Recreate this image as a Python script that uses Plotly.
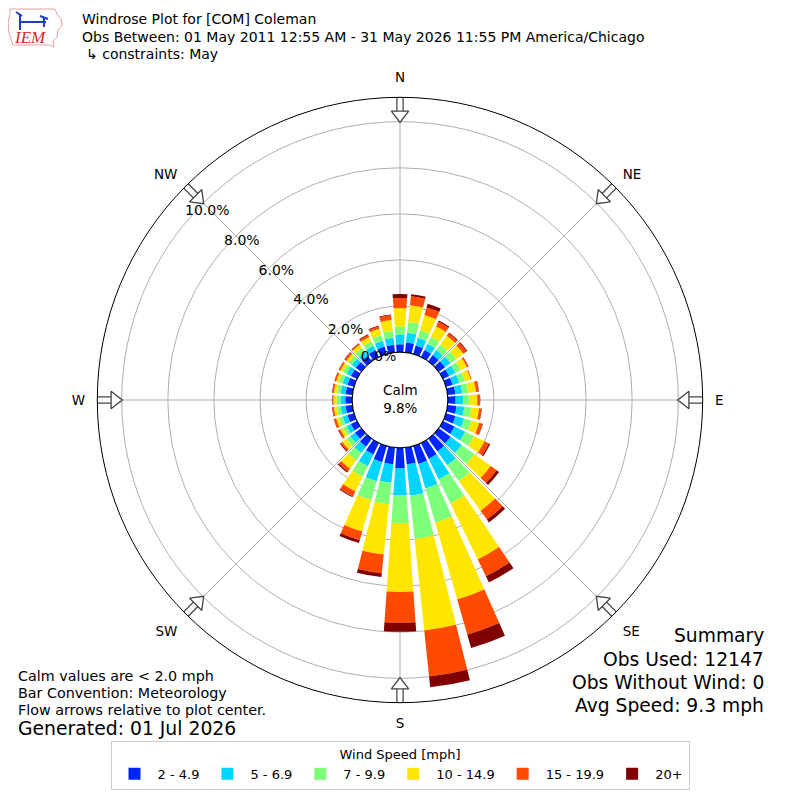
import numpy as np
import plotly.graph_objects as go

# wind direction bins (degrees, meteorological convention)
directions = list(range(0, 360, 10))

speed_bins = ["2 - 4.9", "5 - 6.9", "7 - 9.9", "10 - 14.9", "15 - 19.9", "20+"]
bin_colors = ["#0026ff", "#00d5ff", "#7dff7a", "#ffe600", "#ff4a00", "#800000"]

# frequency [%] per direction for each speed bin
freq_2_5 = [0.34, 0.43, 0.39, 0.34, 0.34, 0.34, 0.30, 0.30, 0.34, 0.34, 0.39, 0.43,
            0.56, 0.64, 0.69, 0.77, 0.81, 0.73, 0.90, 0.73, 0.73, 0.56, 0.43, 0.34,
            0.30, 0.30, 0.30, 0.30, 0.30, 0.30, 0.30, 0.30, 0.30, 0.34, 0.34, 0.34]
freq_5_7 = [0.43, 0.43, 0.34, 0.30, 0.26, 0.30, 0.30, 0.30, 0.30, 0.34, 0.34, 0.39,
            0.51, 0.60, 0.73, 0.99, 1.11, 1.37, 1.16, 0.81, 0.86, 0.56, 0.34, 0.26,
            0.21, 0.21, 0.21, 0.21, 0.21, 0.21, 0.21, 0.21, 0.21, 0.21, 0.26, 0.30]
freq_7_10 = [0.34, 0.47, 0.34, 0.34, 0.30, 0.30, 0.26, 0.26, 0.26, 0.26, 0.30, 0.34,
             0.43, 0.69, 0.86, 1.16, 1.54, 1.89, 1.20, 0.94, 0.86, 0.51, 0.39, 0.21,
             0.17, 0.17, 0.17, 0.17, 0.17, 0.17, 0.17, 0.17, 0.21, 0.21, 0.26, 0.30]
freq_10_15 = [0.81, 0.73, 0.69, 0.51, 0.47, 0.39, 0.30, 0.26, 0.34, 0.34, 0.34, 0.34,
              0.51, 0.86, 1.59, 2.70, 3.47, 3.99, 3.00, 2.19, 1.41, 0.71, 0.45, 0.21,
              0.13, 0.13, 0.13, 0.13, 0.13, 0.13, 0.13, 0.13, 0.17, 0.21, 0.28, 0.47]
freq_15_20 = [0.43, 0.39, 0.34, 0.21, 0.13, 0.17, 0.06, 0.04, 0.11, 0.11, 0.11, 0.15,
              0.21, 0.32, 0.47, 0.81, 1.59, 2.01, 1.33, 0.81, 0.39, 0.24, 0.15, 0.09,
              0.09, 0.09, 0.06, 0.04, 0.06, 0.06, 0.06, 0.09, 0.06, 0.09, 0.11, 0.21]
freq_20_up = [0.17, 0.09, 0.17, 0.06, 0.04, 0.04, 0.02, 0.00, 0.02, 0.02, 0.02, 0.02,
              0.06, 0.13, 0.15, 0.30, 0.60, 0.47, 0.39, 0.17, 0.13, 0.04, 0.06, 0.04,
              0.02, 0.02, 0.02, 0.02, 0.02, 0.02, 0.02, 0.02, 0.02, 0.04, 0.04, 0.04]

ring_values = [0, 2, 4, 6, 8, 10]
ring_labels = ["0.0%", "2.0%", "4.0%", "6.0%", "8.0%", "10.0%"]

compass_angles = [0, 45, 90, 135, 180, 225, 270, 315]
compass_labels = ["N", "NE", "E", "SE", "S", "SW", "W", "NW"]

calm_pct = "9.8%"
r_max = 11.06
FONT = "DejaVu Sans"

# page is drawn with the browser's 8px body margin -> work in figure pixels
OFF = 8
W = H = 800 - OFF
CX, CY, R_OUT = 400 - OFF, 400 - OFF, 302.7
HOLE = 0.158
px_per_unit = R_OUT * (1 - HOLE) / r_max

fig = go.Figure()

all_freqs = [freq_2_5, freq_5_7, freq_7_10, freq_10_15, freq_15_20, freq_20_up]
for name, color, vals in zip(speed_bins, bin_colors, all_freqs):
    fig.add_trace(go.Barpolar(
        r=vals, theta=directions, width=8, name=name,
        marker=dict(color=color, line=dict(width=0)),
        hoverinfo="skip",
    ))

# black circle around the calm hole
circle_theta = np.linspace(0, 360, 181)
fig.add_trace(go.Scatterpolar(
    r=[0] * len(circle_theta), theta=circle_theta, mode="lines",
    line=dict(color="black", width=1), cliponaxis=False,
    showlegend=False, hoverinfo="skip",
))

# flow arrows at the compass points
shaft_r, shaft_t, shaft_r2 = [], [], []
for a in compass_angles:
    shaft_r += [10.45, r_max + 0.12, None]
    shaft_r2 += [10.45, r_max + 0.06, None]
    shaft_t += [a, a, None]
fig.add_trace(go.Scatterpolar(
    r=shaft_r, theta=shaft_t, mode="lines",
    line=dict(color="#444444", width=7.5), cliponaxis=False,
    showlegend=False, hoverinfo="skip",
))
fig.add_trace(go.Scatterpolar(
    r=shaft_r2, theta=shaft_t, mode="lines",
    line=dict(color="white", width=5), cliponaxis=False,
    showlegend=False, hoverinfo="skip",
))
fig.add_trace(go.Scatterpolar(
    r=[10.3] * len(compass_angles), theta=compass_angles, mode="markers",
    marker=dict(symbol="triangle-up", size=15, color="white",
                angle=[a + 180 for a in compass_angles],
                line=dict(color="#444444", width=1.3)),
    cliponaxis=False, showlegend=False, hoverinfo="skip",
))

# ring labels: placed along a line slightly off the NW spoke (like matplotlib)
hole_px = R_OUT * HOLE
lab_r, lab_t = [], []
for v in ring_values:
    x = -20 - 17.27 * v          # px right of center
    y = 40 + 14.83 * v           # px above center
    rp = np.hypot(x, y)
    lab_r.append(max(0.0, (rp - hole_px) / px_per_unit))
    lab_t.append(np.degrees(np.arctan2(x, y)) % 360)
fig.add_trace(go.Scatterpolar(
    r=lab_r, theta=lab_t, mode="text",
    text=ring_labels, textposition="middle center",
    textfont=dict(family=FONT, size=14, color="black"),
    cliponaxis=False, showlegend=False, hoverinfo="skip",
))


def fx(x):
    return (x - OFF) / W


def fy(y):
    return 1 - (y - OFF) / H


annotations = []


def note(text, x, y, size, anchor="left", **kw):
    annotations.append(dict(
        text=text, x=fx(x), y=fy(y), xref="paper", yref="paper",
        showarrow=False, xanchor=anchor, yanchor="middle",
        font=dict(family=kw.get("family", FONT), size=size, color=kw.get("color", "black")),
    ))


note("Windrose Plot for [COM] Coleman", 80, 19, 14)
note("Obs Between: 01 May 2011 12:55 AM - 31 May 2026 11:55 PM America/Chicago", 80, 37, 14)
note("↳ constraints: May", 84, 54, 14)
note("<i>IEM</i>", 30, 38, 17, anchor="center", family="Liberation Serif", color="#d62728")

note("Calm<br>" + calm_pct, 400, 399, 13.5, anchor="center")

note("Calm values are < 2.0 mph", 16, 676, 14.3)
note("Bar Convention: Meteorology", 16, 693, 14.3)
note("Flow arrows relative to plot center.", 16, 710, 14.3)
note("Generated: 01 Jul 2026", 16, 728, 18.8)

note("Summary", 766, 635, 18.7, anchor="right")
note("Obs Used: 12147", 766, 659, 18.7, anchor="right")
note("Obs Without Wind: 0", 766, 682, 18.7, anchor="right")
note("Avg Speed: 9.3 mph", 766, 705, 18.7, anchor="right")

# small logo outline (state shape) and instrument icon, top left
iowa = [(10, 9), (55, 9), (57, 14), (61, 19), (62, 25), (58, 30), (57, 37),
        (53, 41), (54, 47), (49, 45), (13, 45), (11, 39), (9, 33), (8, 22), (10, 15)]
iowa_path = "M " + " L ".join(f"{fx(x):.4f},{fy(y):.4f}" for x, y in iowa) + " Z"
icon = [((20, 14), (20, 30)), ((20, 22), (46, 22)), ((40, 16), (48, 19)),
        ((44, 18), (44, 27)), ((16, 12), (22, 16))]
shapes = [dict(type="path", path=iowa_path, xref="paper", yref="paper",
               line=dict(color="#e8a0a0", width=1))]
for (x0, y0), (x1, y1) in icon:
    shapes.append(dict(type="line", x0=fx(x0), y0=fy(y0), x1=fx(x1), y1=fy(y1),
                       xref="paper", yref="paper", line=dict(color="#1f3fbf", width=2)))

fig.update_layout(
    template="none",
    width=W, height=H,
    margin=dict(l=0, r=0, t=0, b=0),
    paper_bgcolor="white",
    font=dict(family=FONT, size=13, color="black"),
    polar=dict(
        domain=dict(x=[(CX - R_OUT) / W, (CX + R_OUT) / W],
                    y=[1 - (CY + R_OUT) / H, 1 - (CY - R_OUT) / H]),
        hole=HOLE,
        bgcolor="white",
        barmode="stack",
        radialaxis=dict(range=[0, r_max], tickvals=ring_values, showticklabels=False,
                        ticks="", showline=False, gridcolor="#b0b0b0", gridwidth=1),
        angularaxis=dict(rotation=90, direction="clockwise", tickmode="array",
                         tickvals=compass_angles, ticktext=compass_labels,
                         showgrid=True, gridcolor="#b0b0b0", gridwidth=1,
                         linecolor="black", linewidth=1, showline=True,
                         ticks="outside", ticklen=9, tickcolor="rgba(0,0,0,0)",
                         tickfont=dict(family=FONT, size=13.5, color="black")),
    ),
    legend=dict(
        orientation="h", x=(400 - OFF) / W, xanchor="center",
        y=1 - (790 - OFF) / H, yanchor="bottom", itemwidth=36,
        bordercolor="#cccccc", borderwidth=1, bgcolor="white",
        title=dict(text="Wind Speed [mph]", side="top center",
                   font=dict(family=FONT, size=13)),
        font=dict(family=FONT, size=13),
    ),
    shapes=shapes,
    annotations=annotations,
)

fig.write_html("out.html")
